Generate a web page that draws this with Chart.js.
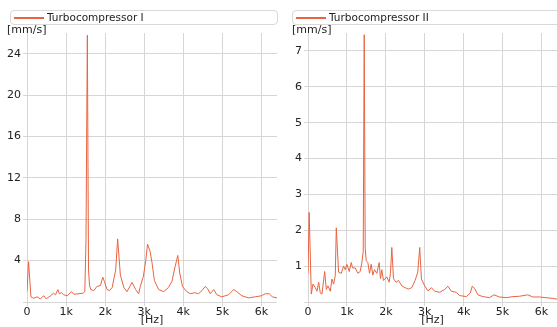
<!DOCTYPE html>
<html>
<head>
<meta charset="utf-8">
<script src="https://cdn.jsdelivr.net/npm/chart.js@4"></script>
<style>
  body { margin: 0; background: #fff; width: 557px; height: 327px; overflow: hidden; position: relative; font-family: "DejaVu Sans", sans-serif; color: #333; }
  .panel { position: absolute; top: 0; height: 327px; }
  .legend { position: absolute; top: 10px; height: 13px; border: 1px solid #d9d9d9; border-radius: 4px; background: #fff; }
  .legend .swatch { position: absolute; left: 3px; top: 6px; width: 30px; height: 1.5px; background: rgb(232,100,64); }
  .legend .label { position: absolute; left: 36px; top: -1px; font-size: 10.5px; line-height: 14px; white-space: nowrap; color: #222; }
  .unit { position: absolute; top: 23px; font-size: 11px; color: #222; }
</style>
</head>
<body>
<div class="panel" style="left:0;width:280px"><canvas id="c1" width="280" height="327"></canvas></div>
<div class="panel" style="left:280px;width:277px"><canvas id="c2" width="277" height="327"></canvas></div>

<div class="legend" style="left:10px;width:266px"><div class="swatch"></div><div class="label">Turbocompressor I</div></div>
<div class="legend" style="left:292px;width:280px"><div class="swatch"></div><div class="label">Turbocompressor II</div></div>
<div class="unit" style="left:7px">[mm/s]</div>
<div class="unit" style="left:292px">[mm/s]</div>

<script>
// Turbocompressor I spectrum
const freq1 = [0, 40, 100, 170, 260, 340, 430, 490, 600, 680, 730, 790, 830, 880, 940, 1030, 1140, 1200, 1330, 1430, 1480, 1510, 1545, 1575, 1600, 1630, 1710, 1790, 1880, 1940, 1980, 2050, 2110, 2180, 2270, 2320, 2390, 2480, 2560, 2690, 2780, 2860, 2900, 2980, 3040, 3085, 3150, 3200, 3260, 3370, 3500, 3620, 3710, 3790, 3860, 3910, 3980, 4090, 4180, 4290, 4390, 4480, 4560, 4620, 4690, 4780, 4860, 4990, 5160, 5290, 5370, 5500, 5670, 5840, 6000, 6100, 6200, 6280, 6400];
const amp1 = [1.0, 3.9, 0.5, 0.36, 0.5, 0.3, 0.6, 0.3, 0.6, 0.85, 0.7, 1.2, 0.8, 0.9, 0.7, 0.6, 1.0, 0.75, 0.8, 0.85, 1.0, 6.0, 25.8, 3.1, 1.65, 1.2, 1.1, 1.5, 1.6, 2.4, 2.0, 1.2, 1.1, 1.4, 3.1, 6.1, 2.6, 1.4, 1.0, 1.9, 1.2, 0.8, 1.5, 2.5, 4.0, 5.6, 4.9, 3.8, 2.1, 1.2, 1.0, 1.4, 2.0, 3.4, 4.5, 2.8, 1.5, 1.0, 0.8, 0.9, 0.8, 1.1, 1.5, 1.3, 0.8, 1.2, 0.7, 0.5, 0.7, 1.2, 1.0, 0.6, 0.4, 0.5, 0.6, 0.8, 0.8, 0.5, 0.4];

// Turbocompressor II spectrum
const freq2 = [0, 30, 85, 128, 188, 231, 274, 316, 359, 428, 470, 513, 573, 615, 658, 701, 727, 786, 855, 915, 957, 1000, 1060, 1111, 1145, 1214, 1282, 1342, 1385, 1419, 1445, 1470, 1496, 1538, 1581, 1624, 1667, 1709, 1769, 1829, 1863, 1897, 1940, 2026, 2085, 2120, 2154, 2197, 2265, 2325, 2410, 2496, 2581, 2667, 2752, 2821, 2872, 2915, 3000, 3085, 3171, 3256, 3385, 3513, 3598, 3684, 3812, 3897, 4068, 4171, 4222, 4282, 4367, 4496, 4667, 4778, 4923, 5094, 5265, 5436, 5650, 5778, 5949, 6120, 6291, 6400];
const amp2 = [0.8, 2.5, 0.22, 0.5, 0.4, 0.3, 0.55, 0.25, 0.22, 0.85, 0.35, 0.45, 0.3, 0.64, 0.5, 0.73, 2.07, 0.83, 0.8, 1.0, 0.9, 1.05, 0.85, 1.1, 0.95, 0.95, 0.8, 0.85, 1.1, 1.4, 7.45, 1.5, 1.15, 1.1, 0.8, 1.05, 0.75, 0.9, 0.8, 1.1, 0.65, 0.9, 0.6, 0.7, 0.55, 0.8, 1.52, 0.65, 0.55, 0.6, 0.45, 0.4, 0.36, 0.4, 0.6, 0.83, 1.52, 0.64, 0.45, 0.31, 0.4, 0.3, 0.27, 0.35, 0.44, 0.3, 0.27, 0.18, 0.15, 0.25, 0.44, 0.38, 0.2, 0.15, 0.12, 0.2, 0.14, 0.12, 0.15, 0.16, 0.2, 0.14, 0.14, 0.12, 0.1, 0.08];

const xTicks = [0, 1000, 2000, 3000, 4000, 5000, 6000];
const yTicks1 = [0, 4, 8, 12, 16, 20, 24];
const yTicks2 = [0, 1, 2, 3, 4, 5, 6, 7];
const lineColor = 'rgb(232,100,64)';
const font = { family: 'DejaVu Sans', size: 11 };

function makeChart(id, freq, amp, yMax, yTicks, yWidth, padRight) {
  const ctx = document.getElementById(id).getContext('2d');
  return new Chart(ctx, {
    type: 'line',
    data: {
      datasets: [{
        data: freq.map((f, i) => ({ x: f, y: amp[i] })),
        borderColor: lineColor,
        borderWidth: 1,
        pointRadius: 0,
        tension: 0
      }]
    },
    options: {
      responsive: false,
      animation: false,
      layout: { padding: { top: 33, right: padRight, left: 0, bottom: 0 } },
      plugins: { legend: { display: false }, tooltip: { enabled: false } },
      scales: {
        x: {
          type: 'linear',
          min: 0,
          max: 6400,
          afterBuildTicks: axis => { axis.ticks = xTicks.map(v => ({ value: v })); },
          afterFit: axis => { axis.height = 25; },
          border: { display: false },
          grid: { color: '#d6d6d6', tickLength: 4 },
          ticks: {
            color: '#222', font: font, padding: 0, maxRotation: 0,
            callback: v => v === 0 ? '0' : (v / 1000) + 'k'
          },
          title: { display: true, text: '[Hz]', color: '#222', font: font, padding: 0 }
        },
        y: {
          min: 0,
          max: yMax,
          afterBuildTicks: axis => { axis.ticks = yTicks.map(v => ({ value: v })); },
          afterFit: axis => { axis.width = yWidth; },
          border: { display: false },
          grid: { color: '#d6d6d6', tickLength: 4 },
          ticks: {
            color: '#222', font: font, padding: 2,
            callback: v => v === 0 ? '' : v
          }
        }
      }
    }
  });
}

makeChart('c1', freq1, amp1, 26, yTicks1, 27, 3);
makeChart('c2', freq2, amp2, 7.5, yTicks2, 28, 0);
</script>
</body>
</html>
